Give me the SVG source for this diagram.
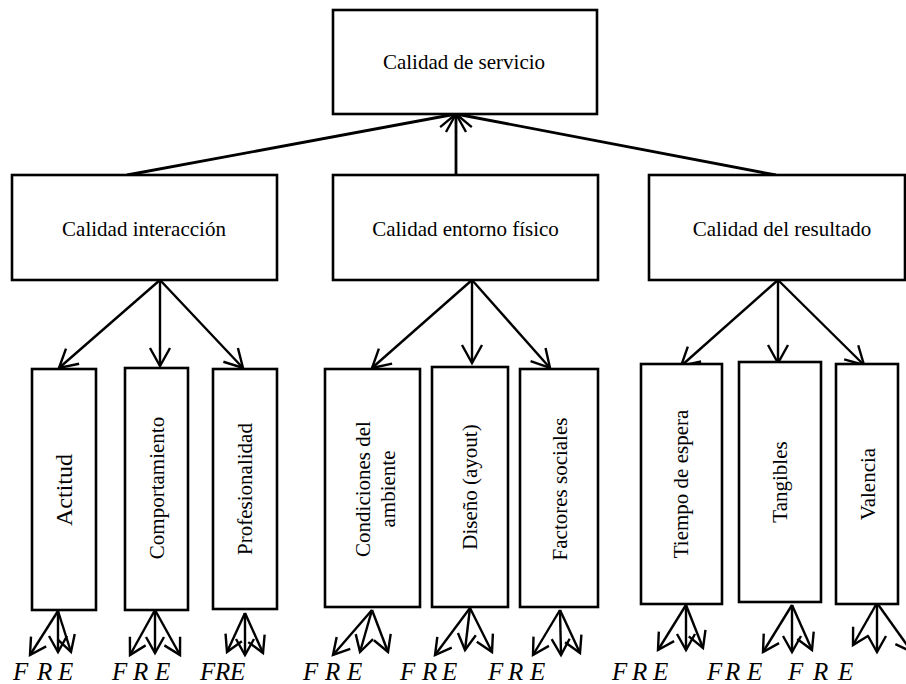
<svg xmlns="http://www.w3.org/2000/svg" width="906" height="684" viewBox="0 0 906 684">
  <style>
    .box { fill: #fff; stroke: #000; stroke-width: 2.6; }
    .lbl { font-family: "Liberation Serif", "Times New Roman", serif; font-size: 21px; fill: #000; text-anchor: middle; }
    .big { font-size: 24px; }
    .fre { font-family: "Liberation Serif", "Times New Roman", serif; font-size: 25px; font-style: italic; fill: #000; }
    .edge { fill: none; stroke: #000; stroke-width: 2.4; }
    .edge.top { stroke-width: 2.8; marker-end: url(#headL); }
    .edge.mid { marker-end: url(#headL); }
    .edge.low { marker-end: url(#headS); }
  </style>
  <defs>
    <marker id="headL" viewBox="-22 -12 26 24" markerWidth="26" markerHeight="24" refX="0" refY="0" orient="auto" markerUnits="userSpaceOnUse" overflow="visible">
      <path d="M-18,-10 L0,0 L-18,10" fill="none" stroke="#000" stroke-width="2.4"/>
    </marker>
    <marker id="headS" viewBox="-18 -10 22 20" markerWidth="22" markerHeight="20" refX="0" refY="0" orient="auto" markerUnits="userSpaceOnUse" overflow="visible">
      <path d="M-16,-9 L0,0 L-16,9" fill="none" stroke="#000" stroke-width="2.4"/>
    </marker>
  </defs>

  <rect width="906" height="684" fill="#fff"/>

  <!-- connectors -->
  <g id="connectors">
    <!-- second level up to the root -->
    <line class="edge top" x1="127" y1="175" x2="456" y2="114"/>
    <line class="edge top" x1="456" y1="175" x2="456" y2="114"/>
    <line class="edge top" x1="776" y1="175" x2="456" y2="114"/>

    <!-- second level down to the dimensions -->
    <line class="edge mid" x1="160" y1="280" x2="59" y2="368"/>
    <line class="edge mid" x1="160" y1="280" x2="160" y2="366"/>
    <line class="edge mid" x1="160" y1="280" x2="243" y2="368"/>

    <line class="edge mid" x1="472" y1="280" x2="372" y2="368"/>
    <line class="edge mid" x1="472" y1="280" x2="472" y2="363"/>
    <line class="edge mid" x1="472" y1="280" x2="550" y2="368"/>

    <line class="edge mid" x1="778" y1="280" x2="681" y2="366"/>
    <line class="edge mid" x1="778" y1="280" x2="778" y2="363"/>
    <line class="edge mid" x1="778" y1="280" x2="864" y2="365"/>

    <!-- F R E fans under each dimension -->
    <line class="edge low" x1="58" y1="611" x2="30" y2="655"/>
    <line class="edge low" x1="58" y1="611" x2="58" y2="652"/>
    <line class="edge low" x1="58" y1="611" x2="71" y2="652"/>

    <line class="edge low" x1="155" y1="610" x2="130" y2="655"/>
    <line class="edge low" x1="155" y1="610" x2="155" y2="653"/>
    <line class="edge low" x1="155" y1="610" x2="180" y2="655"/>

    <line class="edge low" x1="245" y1="613" x2="227" y2="652"/>
    <line class="edge low" x1="245" y1="613" x2="245" y2="655"/>
    <line class="edge low" x1="245" y1="613" x2="263" y2="653"/>

    <line class="edge low" x1="372" y1="610" x2="333" y2="655"/>
    <line class="edge low" x1="372" y1="610" x2="360" y2="652"/>
    <line class="edge low" x1="372" y1="610" x2="388" y2="652"/>

    <line class="edge low" x1="470" y1="608" x2="435" y2="655"/>
    <line class="edge low" x1="470" y1="608" x2="465" y2="650"/>
    <line class="edge low" x1="470" y1="608" x2="492" y2="652"/>

    <line class="edge low" x1="560" y1="610" x2="533" y2="655"/>
    <line class="edge low" x1="560" y1="610" x2="561" y2="655"/>
    <line class="edge low" x1="560" y1="610" x2="580" y2="653"/>

    <line class="edge low" x1="686" y1="605" x2="658" y2="650"/>
    <line class="edge low" x1="686" y1="605" x2="686" y2="650"/>
    <line class="edge low" x1="686" y1="605" x2="703" y2="648"/>

    <line class="edge low" x1="792" y1="605" x2="763" y2="652"/>
    <line class="edge low" x1="792" y1="605" x2="792" y2="652"/>
    <line class="edge low" x1="792" y1="605" x2="812" y2="650"/>

    <line class="edge low" x1="877" y1="603" x2="853" y2="645"/>
    <line class="edge low" x1="877" y1="603" x2="877" y2="652"/>
    <line class="edge low" x1="877" y1="603" x2="912" y2="652"/>
  </g>

  <!-- root -->
  <g id="calidad-servicio">
    <rect class="box" x="333" y="10" width="264" height="104"/>
    <text class="lbl" x="464" y="69">Calidad de servicio</text>
  </g>

  <!-- second level -->
  <g id="calidad-interaccion">
    <rect class="box" x="12" y="175" width="265" height="105"/>
    <text class="lbl" x="144" y="236">Calidad interacción</text>
  </g>
  <g id="calidad-entorno">
    <rect class="box" x="333" y="175" width="265" height="105"/>
    <text class="lbl" x="465.5" y="236">Calidad entorno físico</text>
  </g>
  <g id="calidad-resultado">
    <rect class="box" x="649" y="175" width="256" height="105"/>
    <text class="lbl" x="782" y="236">Calidad del resultado</text>
  </g>

  <!-- dimensions -->
  <g id="actitud">
    <rect class="box" x="32" y="369" width="64" height="241"/>
    <text class="lbl big" transform="translate(72,490) rotate(-90)">Actitud</text>
  </g>
  <g id="comportamiento">
    <rect class="box" x="125" y="368" width="63" height="242"/>
    <text class="lbl" transform="translate(163.5,488) rotate(-90)">Comportamiento</text>
  </g>
  <g id="profesionalidad">
    <rect class="box" x="213" y="369" width="64" height="240"/>
    <text class="lbl" transform="translate(252,489) rotate(-90)">Profesionalidad</text>
  </g>
  <g id="condiciones">
    <rect class="box" x="325" y="369" width="95" height="238"/>
    <text class="lbl" transform="translate(370,489) rotate(-90)">Condiciones del</text>
    <text class="lbl" transform="translate(395,489) rotate(-90)">ambiente</text>
  </g>
  <g id="diseno">
    <rect class="box" x="432" y="367" width="76" height="240"/>
    <text class="lbl" transform="translate(477,487) rotate(-90)">Diseño (ayout)</text>
  </g>
  <g id="factores">
    <rect class="box" x="520" y="369" width="78" height="238"/>
    <text class="lbl" transform="translate(566.5,489) rotate(-90)">Factores sociales</text>
  </g>
  <g id="tiempo">
    <rect class="box" x="641" y="364" width="81" height="240"/>
    <text class="lbl" transform="translate(688,484) rotate(-90)">Tiempo de espera</text>
  </g>
  <g id="tangibles">
    <rect class="box" x="739" y="362" width="82" height="240"/>
    <text class="lbl" transform="translate(787,482) rotate(-90)">Tangibles</text>
  </g>
  <g id="valencia">
    <rect class="box" x="836" y="364" width="62" height="240"/>
    <text class="lbl" transform="translate(875,484) rotate(-90)">Valencia</text>
  </g>

  <!-- F R E labels -->
  <g id="fre-labels">
    <text class="fre" x="13 37 58" y="680">FRE</text>
    <text class="fre" x="112 133 155" y="680">FRE</text>
    <text class="fre" x="200 215 230" y="680">FRE</text>
    <text class="fre" x="303 325 347" y="680">FRE</text>
    <text class="fre" x="400 422 442" y="680">FRE</text>
    <text class="fre" x="488 508 530" y="680">FRE</text>
    <text class="fre" x="612 632 653" y="680">FRE</text>
    <text class="fre" x="707 725 747" y="680">FRE</text>
    <text class="fre" x="788 813 838" y="680">FRE</text>
  </g>
</svg>
